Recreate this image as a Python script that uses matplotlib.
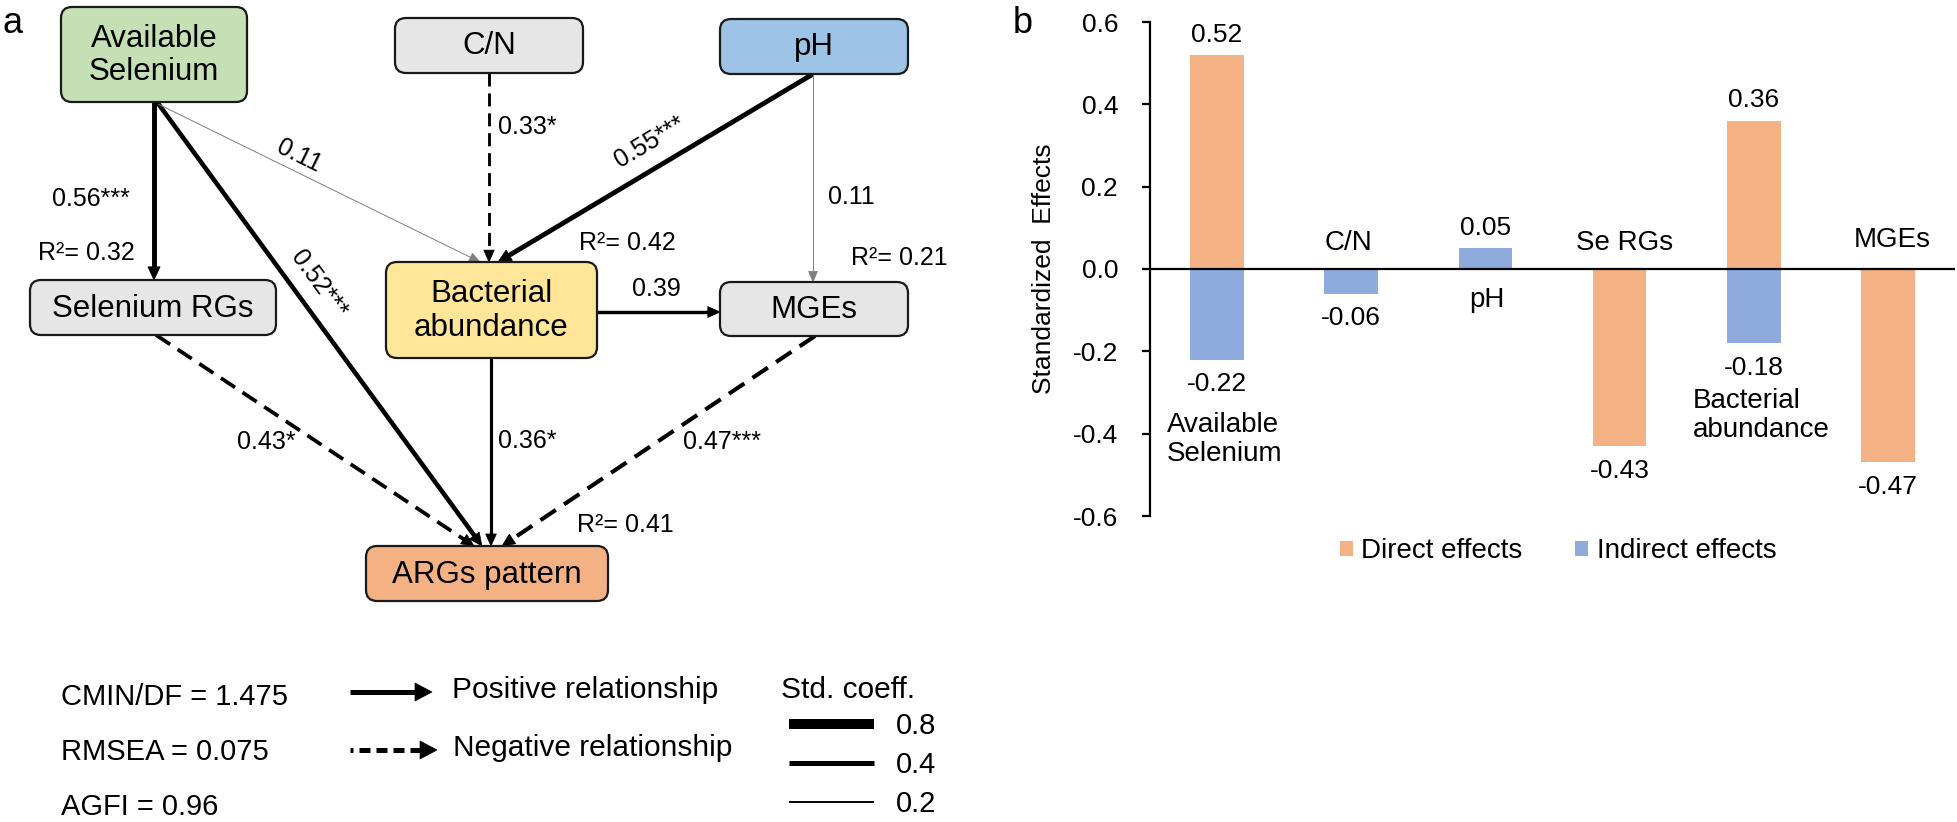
import numpy as np
import matplotlib.pyplot as plt
from matplotlib.patches import FancyBboxPatch, Polygon

plt.rcParams["font.family"] = ["Liberation Sans", "DejaVu Sans"]

W, H = 1958, 822

# ---- panel b data: standardized effects on ARGs pattern ----
CATEGORIES = ["Available\nSelenium", "C/N", "pH", "Se RGs", "Bacterial\nabundance", "MGEs"]
DIRECT = [0.52, 0.0, 0.0, -0.43, 0.36, -0.47]
INDIRECT = [-0.22, -0.06, 0.05, 0.0, -0.18, 0.0]
Y_TICKS = [-0.6, -0.4, -0.2, 0.0, 0.2, 0.4, 0.6]

# ---- panel a data: structural equation model ----
NODE_KEYS = ["se", "cn", "ph", "serg", "bact", "mge", "arg"]
NODE_LABELS = ["Available\nSelenium", "C/N", "pH", "Selenium RGs", "Bacterial\nabundance", "MGEs", "ARGs pattern"]
PATH_FROM = ["se", "se", "se", "cn", "ph", "ph", "bact", "bact", "serg", "mge"]
PATH_TO = ["serg", "arg", "bact", "bact", "bact", "mge", "mge", "arg", "arg", "arg"]
PATH_COEF = [0.56, 0.52, 0.11, 0.33, 0.55, 0.11, 0.39, 0.36, 0.43, 0.47]
PATH_NEGATIVE = [False, False, False, True, False, False, False, False, True, True]
PATH_STARS = ["***", "***", "", "*", "***", "", "", "*", "*", "***"]
R2_NODES = ["serg", "bact", "mge", "arg"]
R2_VALUES = [0.32, 0.42, 0.21, 0.41]
FIT_NAMES = ["CMIN/DF", "RMSEA", "AGFI"]
FIT_VALUES = ["1.475", "0.075", "0.96"]
STD_COEFF_KEYS = ["0.8", "0.4", "0.2"]

# ---- layout (pixel positions on the 1958x822 canvas) ----
NODE_BOX = {
    "se": (61, 7, 247, 102), "cn": (395, 18, 583, 73), "ph": (720, 19, 908, 74),
    "serg": (30, 280, 276, 335), "bact": (386, 262, 597, 358),
    "mge": (720, 282, 908, 336), "arg": (366, 546, 608, 601),
}
NODE_COLOR = {
    "se": "#c5e0b4", "cn": "#e6e6e6", "ph": "#9dc3e6", "serg": "#e6e6e6",
    "bact": "#ffe699", "mge": "#e6e6e6", "arg": "#f4b183",
}
PATH_ENDS = [
    ((154, 102), (154, 280)), ((157, 102), (482, 546)), ((158, 104), (480, 262)),
    ((489, 73), (489, 262)), ((813, 74), (498, 262)), ((813, 74), (813, 282)),
    ((597, 312), (720, 312)), ((491, 358), (491, 546)), ((156, 335), (474, 546)),
    ((815, 336), (502, 546)),
]
PATH_LABEL_POS = [(91, 199), (319, 284), (299, 156), (527, 127), (650, 142),
                  (851, 197), (656, 289), (527, 441), (266, 442), (722, 442)]
PATH_LABEL_ROTATE = [False, True, True, False, True, False, False, False, False, False]
R2_POS = [(86, 253), (627, 243), (899, 258), (625, 525)]

ORANGE = "#f4b183"
BLUE = "#8faadc"
INK = "#1a1a1a"
GRAY_LINE = "#7f7f7f"


def draw_arrow(ax, p0, p1, lw, color, dashes=None, head_len=None, head_w=None):
    p0 = np.asarray(p0, float)
    p1 = np.asarray(p1, float)
    d = (p1 - p0) / np.hypot(*(p1 - p0))
    n = np.array([-d[1], d[0]])
    head_len = head_len or 10 + 0.9 * lw
    head_w = head_w or 4 + 0.6 * lw
    base = p1 - d * head_len
    ls = (0, dashes) if dashes is not None else "-"
    if isinstance(dashes, tuple) and len(dashes) == 2 and isinstance(dashes[1], tuple):
        ls = dashes
    ax.plot([p0[0], base[0] + d[0]], [p0[1], base[1] + d[1]], color=color, lw=lw,
            linestyle=ls, solid_capstyle="butt", dash_capstyle="butt", zorder=2)
    ax.add_patch(Polygon([p1, base + n * head_w, base - n * head_w], closed=True,
                         facecolor=color, edgecolor=color, lw=0.5, zorder=3))


fig = plt.figure(figsize=(W / 100, H / 100), dpi=100)

# ================= panel a =================
axa = fig.add_axes([0, 0, 1, 1])
axa.set_xlim(0, W)
axa.set_ylim(H, 0)
axa.axis("off")

axa.text(2, 33, "a", fontsize=26, ha="left", va="baseline", color="black")

for key, label in zip(NODE_KEYS, NODE_LABELS):
    x0, y0, x1, y1 = NODE_BOX[key]
    axa.add_patch(FancyBboxPatch((x0, y0), x1 - x0, y1 - y0,
                                 boxstyle="round,pad=0,rounding_size=11",
                                 facecolor=NODE_COLOR[key], edgecolor=INK, lw=1.6, zorder=4))
    axa.text((x0 + x1) / 2, (y0 + y1) / 2 + 1, label, fontsize=22.5, ha="center", va="center",
             linespacing=1.15, color="black", zorder=5)

for (p0, p1), coef, neg, stars, pos, rot in zip(PATH_ENDS, PATH_COEF, PATH_NEGATIVE, PATH_STARS,
                                                 PATH_LABEL_POS, PATH_LABEL_ROTATE):
    lw = max(0.7, 6.3 * coef)
    color = GRAY_LINE if coef < 0.2 else "black"
    draw_arrow(axa, p0, p1, lw, color, dashes=(4.5, 2.4) if neg else None)
    angle = 0
    if rot:
        angle = np.degrees(np.arctan2(-(p1[1] - p0[1]), p1[0] - p0[0]))
        if angle < -90:
            angle += 180
    axa.text(pos[0], pos[1], f"{coef:.2f}{stars}", fontsize=18, ha="center", va="center",
             rotation=angle, rotation_mode="anchor", color="black")

for key, val, pos in zip(R2_NODES, R2_VALUES, R2_POS):
    axa.text(pos[0], pos[1], f"R\u00b2= {val:.2f}", fontsize=18, ha="center", va="center")

# fit indices and legend
for i, (name, val) in enumerate(zip(FIT_NAMES, FIT_VALUES)):
    axa.text(61, 697 + 55 * i, f"{name} = {val}", fontsize=21, ha="left", va="center")

draw_arrow(axa, (350, 692), (432, 692), 3.6, "black", head_len=17, head_w=9)
draw_arrow(axa, (350, 750), (437, 750), 3.6, "black", dashes=(1.6, (2.2, 1.2)), head_len=17, head_w=9)
axa.text(452, 690, "Positive relationship", fontsize=21.5, ha="left", va="center")
axa.text(453, 748, "Negative relationship", fontsize=21.5, ha="left", va="center")

axa.text(781, 690, "Std. coeff.", fontsize=21.5, ha="left", va="center")
for i, (key, lw) in enumerate(zip(STD_COEFF_KEYS, [7.2, 3.6, 1.4])):
    y = 724 + 39 * i
    axa.plot([789, 874], [y, y], color="black", lw=lw, solid_capstyle="butt")
    axa.text(896, y + 2, key, fontsize=21, ha="left", va="center")

# ================= panel b =================
axb = fig.add_axes([1150 / W, 1 - 516 / H, 805 / W, 494 / H])
axb.patch.set_alpha(0)
x = np.arange(len(CATEGORIES))
axb.bar(x, DIRECT, width=0.4, color=ORANGE, label="Direct effects", zorder=2)
axb.bar(x, INDIRECT, width=0.4, color=BLUE, label="Indirect effects", zorder=2)
axb.set_xlim(-0.5, 5.5)
axb.set_ylim(-0.6, 0.6)
axb.axhline(0, color="black", lw=1.6, zorder=3)
for side in ("top", "right", "bottom"):
    axb.spines[side].set_visible(False)
axb.spines["left"].set_linewidth(1.6)
axb.set_xticks([])
axb.set_yticks(Y_TICKS)
axb.set_yticklabels([f"{t:.1f}" for t in Y_TICKS])
axb.tick_params(axis="y", direction="out", length=6, width=1.6, labelsize=19, pad=17)
axb.set_ylabel("Standardized  Effects", fontsize=19)
axb.yaxis.set_label_coords(-0.117, 0.5)

for xi, vals in zip(x, zip(DIRECT, INDIRECT)):
    for v in vals:
        if v == 0:
            continue
        if v > 0:
            axb.annotate(f"{v:.2f}", (xi, v), xytext=(0, 6), textcoords="offset points",
                         ha="center", va="bottom", fontsize=19)
        else:
            axb.annotate(f"{v:.2f}", (xi, v), xytext=(0, -9), textcoords="offset points",
                         ha="center", va="top", fontsize=19)

# category names placed next to their bars
CAT_LABEL_POS = [(-0.373, -0.413, "left"), (0.976, 0.063, "center"), (2.012, -0.075, "center"),
                 (3.04, 0.063, "center"), (3.547, -0.357, "left"), (5.03, 0.07, "center")]
for name, (lx, ly, ha) in zip(CATEGORIES, CAT_LABEL_POS):
    axb.text(lx, ly, name, fontsize=20, ha=ha, va="center", linespacing=1.15, multialignment="left")

axb.legend(loc="center", bbox_to_anchor=(0.507, -0.071), ncol=2, frameon=False, fontsize=20,
           handlelength=0.47, handleheight=0.47, handletextpad=0.3, columnspacing=1.9)

fig.text(1013 / W, 1 - 33 / H, "b", fontsize=26, ha="left", va="baseline")

fig.savefig("out.png", dpi=100)
